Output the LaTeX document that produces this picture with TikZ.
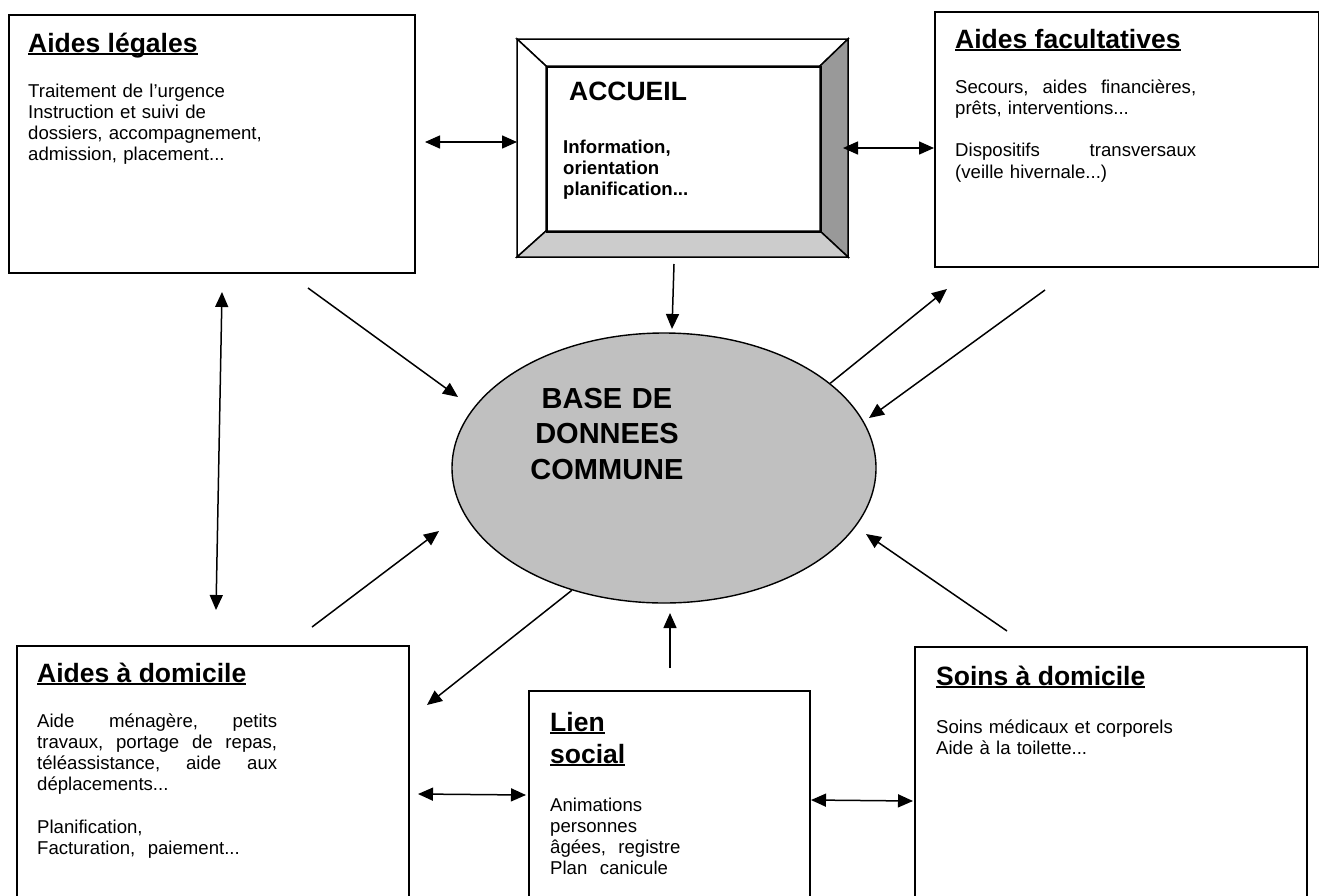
\documentclass[tikz,border=0pt]{standalone}
\usepackage{fontspec}
\setmainfont{Liberation Sans}
\usetikzlibrary{arrows.meta,shapes.geometric}
\definecolor{dbgray}{HTML}{C0C0C0}
\definecolor{bevdark}{HTML}{999999}
\definecolor{bevlight}{HTML}{CCCCCC}
\newsavebox\headbox
\newcommand\bodytxt{\fontsize{18.6}{21.3}\selectfont}
\newcommand\headtxt{\fontsize{26.5}{32}\selectfont\bfseries}
\newcommand\dbtxt{\fontsize{29}{35.5}\selectfont\bfseries}
\newcommand\headul[1]{\sbox\headbox{#1}\rlap{\rule[-3.2pt]{\wd\headbox}{1.8pt}}\usebox\headbox}
\begin{document}
\begin{tikzpicture}[x=1pt, y={(0pt,-1pt)},
    box/.style={draw, line width=1.8pt, anchor=north west, inner sep=0pt},
    txt/.style={anchor=base west, inner sep=0pt, align=left},
    arr/.style={line width=1.5pt, -{Triangle[length=15pt,width=13pt]}},
    dbl/.style={line width=1.5pt, {Triangle[length=15pt,width=13pt]}-{Triangle[length=15pt,width=13pt]}}]
\useasboundingbox (0,0) rectangle (1319,895);

% boxes
\node[box, minimum width=406pt, minimum height=258pt] (legales) at (8,14) {};
\node[box, minimum width=384pt, minimum height=255pt] (facult) at (934,11) {};
\node[box, minimum width=392pt, minimum height=262pt] (domicile) at (16,645) {};
\node[box, minimum width=281pt, minimum height=220pt] (lien) at (528,690) {};
\node[box, minimum width=392pt, minimum height=262pt] (soins) at (914,646) {};

% accueil frame
\coordinate (o1) at (517,39);  \coordinate (o2) at (848,39);
\coordinate (o3) at (848,257); \coordinate (o4) at (517,257);
\coordinate (i1) at (546,66);  \coordinate (i2) at (820,66);
\coordinate (i3) at (820,231); \coordinate (i4) at (546,231);
\filldraw[line width=1.5pt, fill=white] (o1) -- (o2) -- (i2) -- (i1) -- cycle;
\filldraw[line width=1.5pt, fill=white] (o1) -- (i1) -- (i4) -- (o4) -- cycle;
\filldraw[line width=1.5pt, fill=bevdark] (o2) -- (o3) -- (i3) -- (i2) -- cycle;
\filldraw[line width=1.5pt, fill=bevlight] (o4) -- (i4) -- (i3) -- (o3) -- cycle;
\node[draw, line width=1.5pt, anchor=north west, inner sep=0pt,
    minimum width=274pt, minimum height=165pt] (accueil) at (i1) {};

% base de donnees
\node[ellipse, draw, fill=dbgray, line width=1.4pt, inner sep=0pt,
    minimum width=424pt, minimum height=270pt] (db) at (664,468) {};
\node[anchor=base, inner sep=0pt, text width=220pt, align=center, font=\dbtxt]
    (db-t) at (607,408) {BASE DE\\DONNEES\\COMMUNE};

% arrow ends
\coordinate (lg-acc) at (425,142);  \coordinate (acc-lg) at (517,142);
\coordinate (acc-fa) at (843,148);  \coordinate (fa-acc) at (934,148);
\coordinate (acc-db) at (674,264);  \coordinate (db-acc) at (672,329);
\coordinate (lg-db) at (308,288);   \coordinate (db-lg) at (458,397);
\coordinate (lg-dom) at (222,292);  \coordinate (dom-lg) at (216,610);
\coordinate (db-fa) at (947,289);
\coordinate (fa-db) at (1045,290);  \coordinate (db-fa2) at (869,418);
\coordinate (dom-db) at (312,627);  \coordinate (db-dom) at (439,531);
\coordinate (dom-in) at (427,705);
\coordinate (li-db) at (670,668);   \coordinate (db-li) at (670,613);
\coordinate (so-db) at (1007,631);  \coordinate (db-so) at (866,534);
\coordinate (dom-li) at (418,794);  \coordinate (li-dom) at (526,795);
\coordinate (li-so) at (811,800);   \coordinate (so-li) at (913,801);

\draw[dbl] (lg-acc) -- (acc-lg);
\draw[dbl] (acc-fa) -- (fa-acc);
\draw[arr] (acc-db) -- (db-acc);
\draw[arr] (lg-db) -- (db-lg);
\draw[dbl] (lg-dom) -- (dom-lg);
\draw[arr] (db.27) -- (db-fa);
\draw[arr] (fa-db) -- (db-fa2);
\draw[arr] (dom-db) -- (db-dom);
\draw[arr] (db.233) -- (dom-in);
\draw[arr] (li-db) -- (db-li);
\draw[arr] (so-db) -- (db-so);
\draw[dbl] (dom-li) -- (li-dom);
\draw[dbl] (li-so) -- (so-li);

% texts
\node[txt, font=\headtxt] (legales-h) at (28,52) {\headul{Aides légales}};
\node[txt, font=\bodytxt, text width=320pt] (legales-b) at (28,97)
    {Traitement de l’urgence\\Instruction et suivi de\\dossiers, accompagnement,\\admission, placement...};

\node[txt, font=\headtxt] (accueil-h) at (569,100) {\bfseries ACCUEIL};
\node[txt, font=\bodytxt\bfseries, text width=240pt] (accueil-b) at (563,153)
    {Information,\\orientation\\planification...};

\node[txt, font=\headtxt] (facult-h) at (955,48) {\headul{Aides facultatives}};
\node[txt, font=\bodytxt, text width=300pt] (facult-b) at (955,93)
    {\makebox[241pt][l]{Secours,\hfill aides\hfill financières,}\\prêts, interventions...\\[21.3pt]
     \makebox[241pt][l]{Dispositifs\hfill transversaux}\\(veille hivernale...)};

\node[txt, font=\headtxt] (domicile-h) at (37,682) {\headul{Aides à domicile}};
\node[txt, font=\bodytxt, text width=300pt] (domicile-b) at (37,727)
    {\makebox[240pt][l]{Aide\hfill ménagère,\hfill petits}\\
     \makebox[240pt][l]{travaux,\hfill portage\hfill de\hfill repas,}\\
     \makebox[240pt][l]{téléassistance,\hfill aide\hfill aux}\\déplacements...\\[21.3pt]
     Planification,\\Facturation,\ \ paiement...};

\node[txt, font=\headtxt] (lien-h1) at (550,731) {\headul{Lien}};
\node[txt, font=\headtxt] (lien-h2) at (550,763) {\headul{social}};
\node[txt, font=\bodytxt, text width=200pt] (lien-b) at (550,811)
    {Animations\\personnes\\âgées,\ \ registre\\Plan\ \ canicule};

\node[txt, font=\headtxt] (soins-h) at (936,685) {\headul{Soins à domicile}};
\node[txt, font=\bodytxt, text width=300pt] (soins-b) at (936,733)
    {Soins médicaux et corporels\\Aide à la toilette...};
\end{tikzpicture}
\end{document}
